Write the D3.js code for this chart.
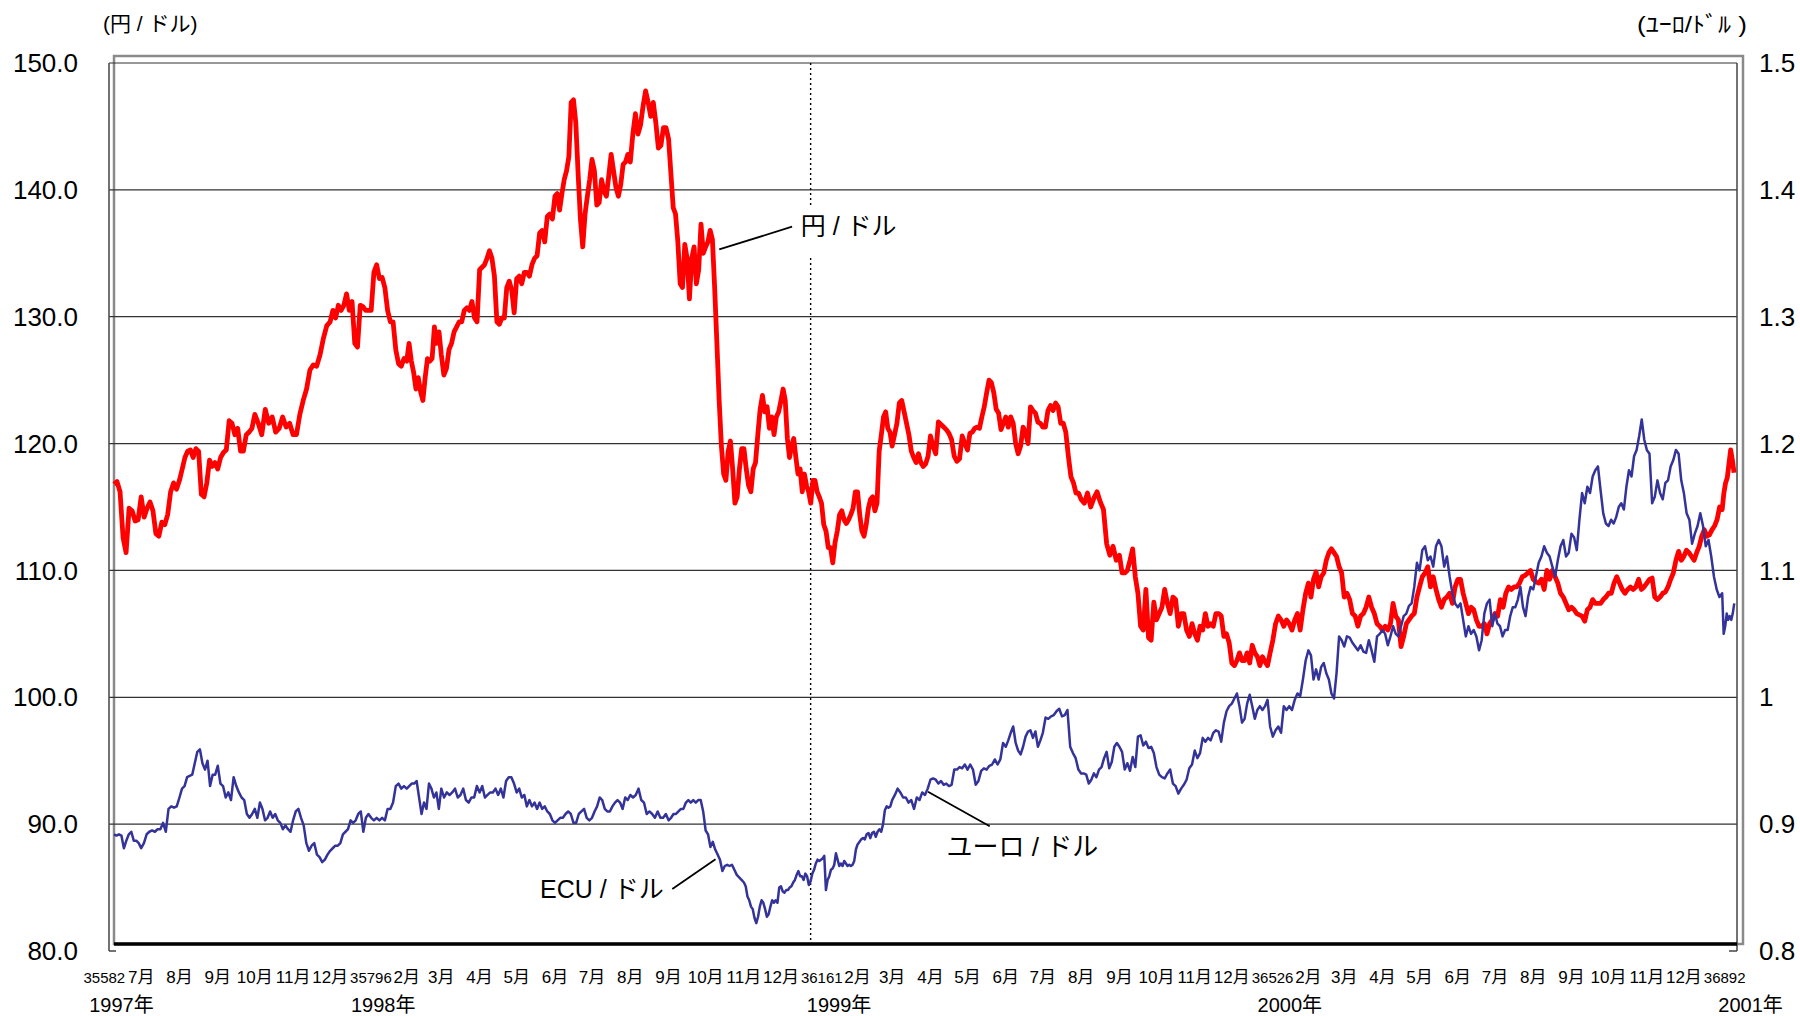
<!DOCTYPE html>
<html>
<head>
<meta charset="utf-8">
<script src="https://cdn.jsdelivr.net/npm/d3@7"></script>
<style>
  body { margin: 0; background: #fff; }
  svg { display: block; }
  text { font-family: "Liberation Sans", Arial, "Noto Sans CJK JP", sans-serif; fill: #000; }
</style>
</head>
<body>
<div id="chart"></div>
<script>
// month rows: values inside a row are spread evenly over that month
const monthStarts = [
    "1997-06-09", "1997-07-01", "1997-08-01", "1997-09-01", "1997-10-01", "1997-11-01", "1997-12-01",
    "1998-01-01", "1998-02-01", "1998-03-01", "1998-04-01", "1998-05-01", "1998-06-01",
    "1998-07-01", "1998-08-01", "1998-09-01", "1998-10-01", "1998-11-01", "1998-12-01",
    "1999-01-01", "1999-02-01", "1999-03-01", "1999-04-01", "1999-05-01", "1999-06-01",
    "1999-07-01", "1999-08-01", "1999-09-01", "1999-10-01", "1999-11-01", "1999-12-01",
    "2000-01-01", "2000-02-01", "2000-03-01", "2000-04-01", "2000-05-01", "2000-06-01",
    "2000-07-01", "2000-08-01", "2000-09-01", "2000-10-01", "2000-11-01", "2000-12-01",
    "2001-01-01"
];
const lastDate = "2001-01-12";

// 円/ドル (left axis)
const yenRows = [
    [116.8, 117.0, 116.2, 112.6, 111.4, 114.9, 114.7, 113.9, 114.0],
    [115.8, 114.2, 114.9, 115.4, 114.7, 112.9, 112.7, 113.8, 113.6, 114.4, 116.2, 116.9, 116.4],
    [117.1, 118.0, 118.9, 119.4, 119.5, 118.9, 119.6, 119.4, 116.0, 115.8, 116.9, 118.7, 118.2, 118.5],
    [118.0, 118.9, 119.3, 119.5, 121.8, 121.6, 120.7, 121.2, 119.4, 119.4, 120.7, 120.9, 121.2],
    [122.3, 121.6, 120.7, 122.7, 121.6, 122.1, 120.9, 121.2, 122.1, 121.3, 121.6],
    [120.7, 120.7, 122.3, 123.4, 124.3, 125.8, 126.2, 126.1, 127.0, 128.3, 129.3],
    [129.6, 130.5, 129.9, 130.9, 130.5, 130.9, 131.8, 130.5, 131.2, 127.9, 127.6, 130.9, 130.8, 130.5],
    [130.5, 130.5, 133.5, 134.1, 133.0, 133.1, 132.3, 130.5, 129.6, 129.6, 127.4, 126.3, 126.1, 126.7],
    [126.5, 127.9, 126.5, 125.6, 124.3, 125.2, 124.1, 123.4, 125.2, 126.7, 126.5, 126.7, 129.2, 127.9, 128.8],
    [127.0, 125.4, 125.9, 127.4, 127.9, 128.8, 129.2, 129.6, 129.6, 130.5, 130.7, 130.5, 131.2, 129.9, 129.6],
    [133.7, 133.9, 134.1, 134.6, 135.2, 134.6, 133.2, 129.6, 129.4, 129.9, 129.9, 132.3, 132.8, 132.1, 130.3],
    [133.0, 133.2, 132.6, 133.5, 133.5, 133.2, 134.1, 134.6, 134.8, 136.6, 136.8, 135.9, 137.9, 138.1, 137.7],
    [139.5, 139.7, 138.4, 139.7, 140.8, 141.5, 142.6, 146.9, 147.1, 145.3, 141.3, 137.7, 135.5, 138.1, 139.5, 140.8],
    [142.4, 141.5, 138.8, 139.0, 140.8, 139.9, 139.5, 141.1, 142.8, 141.5, 140.2, 139.5, 140.4, 142.0, 142.2, 142.8],
    [142.2, 144.4, 146.0, 144.4, 145.1, 146.6, 147.8, 146.9, 145.8, 146.9, 145.3, 143.3, 143.5, 144.9, 144.9],
    [144.0, 141.3, 138.6, 138.1, 135.9, 132.6, 132.3, 135.7, 134.6, 131.4, 134.6, 135.5, 132.6, 133.7, 137.3, 135.0],
    [135.5, 135.9, 136.8, 136.1, 132.3, 127.9, 123.4, 119.8, 117.6, 117.1, 119.4, 120.2, 118.0, 115.3, 115.8, 118.0, 119.6],
    [119.6, 118.0, 116.7, 116.2, 118.0, 118.5, 120.7, 122.7, 123.8, 122.5, 122.9, 121.2, 122.1, 120.7, 122.1, 122.5],
    [123.4, 124.3, 123.4, 120.4, 118.9, 119.8, 120.4, 118.9, 117.6, 118.0, 116.2, 117.6, 116.7, 116.2, 115.3, 117.1, 117.1, 116.2],
    [115.8, 115.3, 113.6, 113.1, 111.8, 111.8, 110.6, 112.2, 113.1, 114.4, 114.7, 114.0, 113.7, 114.0, 114.4, 114.9, 116.2],
    [116.2, 114.4, 113.1, 112.7, 113.6, 114.9, 115.6, 115.8, 114.7, 115.3, 119.4, 120.7, 122.1, 122.5, 121.2, 120.9],
    [119.8, 120.7, 121.6, 123.2, 123.4, 122.5, 121.6, 120.7, 119.4, 118.9, 118.5, 119.2, 118.5, 118.2, 118.4, 119.0],
    [120.6, 119.8, 119.2, 121.7, 121.5, 121.3, 121.1, 120.8, 120.3, 119.0, 118.6, 118.8, 120.6, 120.0],
    [119.5, 120.8, 120.9, 121.2, 121.3, 121.2, 122.1, 122.9, 124.0, 125.0, 124.8, 124.0, 122.7, 122.4, 121.1, 121.6],
    [122.1, 121.3, 122.1, 121.6, 120.0, 119.2, 119.8, 121.3, 120.9, 120.0, 122.9, 122.6, 122.4, 121.7, 121.6],
    [121.3, 121.3, 122.6, 123.0, 122.6, 123.2, 122.9, 121.6, 121.6, 120.9, 119.0, 117.4, 116.9, 116.1, 116.1],
    [115.6, 115.3, 116.1, 115.0, 115.7, 116.2, 115.4, 114.8, 112.1, 111.2, 111.9, 110.8],
    [111.2, 109.8, 109.8, 110.0, 110.8, 111.7, 109.5, 108.2, 105.6, 105.3, 108.5, 104.7, 104.5, 107.5],
    [106.1, 106.6, 107.1, 108.5, 107.4, 106.6, 107.9, 107.7, 105.6, 106.6, 106.6, 105.3, 104.8, 105.8],
    [105.0, 104.5, 105.6, 105.3, 106.6, 105.6, 105.8, 105.6, 106.6, 106.6, 106.4, 104.8, 105.0, 104.3],
    [102.7, 102.5, 102.9, 103.5, 102.9, 102.9, 103.5, 102.7, 104.1, 103.5, 103.2, 102.5, 103.2, 102.8, 102.5],
    [103.5, 104.5, 105.8, 106.4, 106.1, 105.6, 106.1, 105.8, 105.3, 106.1, 106.6, 105.3, 106.9, 108.2],
    [109.0, 107.9, 109.3, 109.9, 108.7, 109.5, 109.8, 110.8, 111.4, 111.7, 111.4, 111.1, 110.3, 109.8],
    [107.9, 108.2, 107.7, 106.6, 106.4, 105.6, 106.4, 106.6, 107.1, 107.9, 107.1, 106.6, 105.8, 105.6],
    [105.3, 105.6, 105.3, 105.8, 107.4, 106.4, 106.1, 104.0, 104.8, 105.8, 106.1, 106.4, 106.6, 107.9],
    [108.7, 109.5, 109.8, 110.3, 108.7, 109.5, 108.5, 107.7, 107.1, 107.7, 107.9, 108.2, 107.4, 108.7],
    [109.3, 109.3, 108.2, 107.4, 106.6, 107.1, 106.9, 106.1, 105.6, 105.6, 105.8, 105.0, 105.8, 106.1],
    [106.6, 106.4, 107.7, 107.1, 108.2, 108.7, 108.5, 108.7, 108.7, 109.0, 109.5, 109.6, 109.8, 110.0],
    [109.3, 109.1, 109.0, 109.3, 108.5, 110.0, 109.3, 110.0, 109.5, 109.0, 108.2, 107.9, 107.4, 106.9],
    [107.1, 106.9, 106.6, 106.5, 106.4, 106.0, 106.9, 107.1, 107.7, 107.4, 107.4, 107.4, 107.7, 107.9],
    [108.2, 108.2, 109.0, 109.5, 109.0, 108.5, 108.2, 108.5, 108.7, 108.5, 108.7, 109.3, 108.5, 108.7],
    [109.0, 109.3, 109.4, 107.9, 107.7, 107.9, 108.2, 108.3, 108.7, 109.3, 109.8, 110.8, 111.5, 110.8],
    [111.1, 111.6, 111.4, 111.1, 110.8, 111.4, 111.9, 112.7, 113.2, 112.7, 112.8, 113.2, 113.5, 114.0, 115.0],
    [114.8, 116.1, 116.9, 117.3, 118.4, 119.5, 118.7, 117.7]
];

// ECU/ドル then ユーロ/ドル (right axis)
const euroRows = [
    [0.892, 0.891, 0.892, 0.891, 0.881, 0.887, 0.892, 0.894, 0.887, 0.887, 0.885],
    [0.881, 0.885, 0.892, 0.894, 0.895, 0.894, 0.896, 0.896, 0.901, 0.894, 0.912, 0.914, 0.913, 0.914],
    [0.921, 0.928, 0.930, 0.937, 0.938, 0.939, 0.948, 0.957, 0.959, 0.948, 0.943, 0.950, 0.930, 0.939, 0.939],
    [0.946, 0.932, 0.930, 0.921, 0.925, 0.919, 0.937, 0.930, 0.925, 0.921, 0.919, 0.908, 0.905, 0.908],
    [0.912, 0.905, 0.917, 0.912, 0.903, 0.905, 0.910, 0.905, 0.908, 0.903, 0.901, 0.896, 0.899, 0.896, 0.894],
    [0.903, 0.910, 0.912, 0.905, 0.899, 0.885, 0.879, 0.883, 0.885, 0.876, 0.874, 0.870, 0.872, 0.876],
    [0.879, 0.881, 0.883, 0.883, 0.885, 0.892, 0.894, 0.896, 0.903, 0.901, 0.903, 0.908, 0.910, 0.894, 0.905],
    [0.908, 0.905, 0.903, 0.905, 0.903, 0.905, 0.903, 0.912, 0.912, 0.917, 0.930, 0.932, 0.928, 0.930],
    [0.928, 0.930, 0.932, 0.932, 0.934, 0.921, 0.908, 0.917, 0.912, 0.932, 0.928, 0.921, 0.925, 0.912],
    [0.928, 0.921, 0.925, 0.923, 0.925, 0.928, 0.921, 0.923, 0.928, 0.919, 0.917, 0.921, 0.921, 0.930],
    [0.925, 0.930, 0.921, 0.923, 0.925, 0.925, 0.928, 0.923, 0.928, 0.921, 0.934, 0.937, 0.937, 0.932],
    [0.925, 0.928, 0.921, 0.923, 0.914, 0.919, 0.914, 0.917, 0.912, 0.917, 0.912, 0.914, 0.910, 0.908, 0.903],
    [0.901, 0.903, 0.905, 0.905, 0.908, 0.910, 0.908, 0.901, 0.901, 0.908, 0.910, 0.912, 0.905, 0.903],
    [0.905, 0.910, 0.914, 0.921, 0.919, 0.912, 0.910, 0.910, 0.914, 0.917, 0.919, 0.917, 0.912, 0.921, 0.919],
    [0.923, 0.921, 0.923, 0.928, 0.919, 0.917, 0.908, 0.910, 0.908, 0.905, 0.910, 0.905, 0.905, 0.908],
    [0.903, 0.905, 0.908, 0.908, 0.910, 0.912, 0.912, 0.917, 0.919, 0.917, 0.919, 0.917, 0.919, 0.919, 0.910],
    [0.895, 0.892, 0.882, 0.886, 0.880, 0.876, 0.872, 0.863, 0.867, 0.868, 0.867, 0.868, 0.864, 0.860, 0.858, 0.856],
    [0.854, 0.851, 0.843, 0.840, 0.835, 0.833, 0.826, 0.822, 0.827, 0.835, 0.840, 0.838, 0.833, 0.827, 0.829, 0.835, 0.840, 0.838, 0.840, 0.838, 0.850],
    [0.851, 0.847, 0.846, 0.848, 0.848, 0.850, 0.851, 0.854, 0.856, 0.860, 0.863, 0.859, 0.859, 0.856, 0.861, 0.859, 0.852, 0.855, 0.861, 0.864, 0.869, 0.872],
    [0.871, 0.872, 0.873, 0.875, 0.848, 0.856, 0.859, 0.864, 0.865, 0.868, 0.877, 0.872, 0.867, 0.869, 0.867, 0.871, 0.869, 0.867, 0.868, 0.867, 0.868, 0.871, 0.880],
    [0.884, 0.886, 0.888, 0.889, 0.888, 0.892, 0.893, 0.889, 0.893, 0.894, 0.890, 0.894, 0.896, 0.894, 0.900, 0.911, 0.914, 0.913, 0.914],
    [0.919, 0.923, 0.928, 0.925, 0.921, 0.921, 0.917, 0.919, 0.912, 0.921, 0.919, 0.925, 0.923, 0.928],
    [0.935, 0.936, 0.935, 0.932, 0.934, 0.931, 0.932, 0.930, 0.931, 0.943, 0.943, 0.945, 0.944, 0.947],
    [0.943, 0.947, 0.943, 0.931, 0.934, 0.942, 0.944, 0.943, 0.946, 0.947, 0.951, 0.947, 0.951, 0.964],
    [0.961, 0.966, 0.972, 0.977, 0.964, 0.958, 0.955, 0.961, 0.969, 0.973, 0.974, 0.968, 0.973, 0.961, 0.966],
    [0.972, 0.984, 0.983, 0.985, 0.986, 0.989, 0.991, 0.985, 0.986, 0.990, 0.961, 0.956, 0.952, 0.943],
    [0.940, 0.940, 0.939, 0.932, 0.935, 0.940, 0.937, 0.943, 0.945, 0.952, 0.957, 0.944, 0.949, 0.961, 0.964],
    [0.961, 0.957, 0.943, 0.948, 0.942, 0.953, 0.945, 0.969, 0.970, 0.962, 0.965, 0.960, 0.961, 0.956],
    [0.945, 0.939, 0.937, 0.936, 0.940, 0.943, 0.932, 0.930, 0.924, 0.928, 0.931, 0.935, 0.944, 0.947],
    [0.958, 0.952, 0.956, 0.968, 0.965, 0.968, 0.966, 0.972, 0.974, 0.973, 0.965, 0.980, 0.989, 0.993],
    [0.995, 0.999, 1.003, 0.993, 0.980, 0.983, 0.995, 1.002, 0.993, 0.983, 0.990, 0.993, 0.990, 0.993, 0.998],
    [0.977, 0.969, 0.974, 0.977, 0.972, 0.993, 0.990, 0.993, 0.990, 0.998, 1.003, 1.001, 1.014, 1.029],
    [1.037, 1.033, 1.014, 1.022, 1.014, 1.024, 1.027, 1.019, 1.014, 1.003, 0.999, 1.019, 1.048, 1.045],
    [1.040, 1.048, 1.047, 1.043, 1.040, 1.037, 1.041, 1.036, 1.035, 1.045, 1.037, 1.028, 1.048, 1.050],
    [1.053, 1.050, 1.041, 1.048, 1.056, 1.050, 1.048, 1.056, 1.064, 1.066, 1.072, 1.074, 1.087, 1.106],
    [1.100, 1.116, 1.119, 1.108, 1.111, 1.103, 1.119, 1.124, 1.119, 1.103, 1.111, 1.095, 1.082, 1.074],
    [1.071, 1.074, 1.061, 1.048, 1.056, 1.050, 1.053, 1.048, 1.037, 1.045, 1.066, 1.074, 1.077, 1.056],
    [1.066, 1.058, 1.056, 1.048, 1.053, 1.053, 1.064, 1.071, 1.071, 1.077, 1.087, 1.071, 1.064, 1.079, 1.087],
    [1.085, 1.095, 1.106, 1.111, 1.119, 1.114, 1.111, 1.103, 1.095, 1.108, 1.119, 1.124, 1.111, 1.114],
    [1.129, 1.126, 1.116, 1.140, 1.161, 1.153, 1.166, 1.161, 1.174, 1.179, 1.182, 1.163, 1.145, 1.137],
    [1.135, 1.140, 1.137, 1.142, 1.150, 1.153, 1.148, 1.166, 1.179, 1.174, 1.190, 1.195, 1.206, 1.219, 1.203],
    [1.195, 1.192, 1.153, 1.158, 1.171, 1.161, 1.156, 1.169, 1.171, 1.182, 1.187, 1.195, 1.192, 1.171],
    [1.161, 1.145, 1.140, 1.121, 1.129, 1.135, 1.145, 1.135, 1.119, 1.124, 1.111, 1.095, 1.085, 1.079],
    [1.082, 1.050, 1.056, 1.066, 1.061, 1.064, 1.061, 1.066, 1.074]
];

// axis labels (excel printed the january ones as date serials)
const tickLabels = [
    "35582", "7月", "8月", "9月", "10月", "11月", "12月",
    "35796", "2月", "3月", "4月", "5月", "6月", "7月", "8月", "9月", "10月", "11月", "12月",
    "36161", "2月", "3月", "4月", "5月", "6月", "7月", "8月", "9月", "10月", "11月", "12月",
    "36526", "2月", "3月", "4月", "5月", "6月", "7月", "8月", "9月", "10月", "11月", "12月",
    "36892"
];
const yearLabels = ["1997年", "1998年", "1999年", "2000年", "2001年"];
const yearLabelDates = ["1997-06-15", "1998-01-13", "1999-01-17", "2000-01-17", "2001-01-24"];

const yenTicks = [80, 90, 100, 110, 120, 130, 140, 150];
const euroTicks = [0.8, 0.9, 1.0, 1.1, 1.2, 1.3, 1.4, 1.5];
const euroTickLabels = ["0.8", "0.9", "1", "1.1", "1.2", "1.3", "1.4", "1.5"];

const euroStartDate = "1998-12-25"; // dotted line

const parse = d3.timeParse("%Y-%m-%d");

const W = 1800, H = 1016;
const plotL = 114, plotR = 1737, plotT = 63, plotB = 951;

const svg = d3.select("#chart").append("svg")
    .attr("width", W)
    .attr("height", H);

svg.append("rect").attr("width", W).attr("height", H).attr("fill", "#fff");

const x = d3.scaleTime()
    .domain([parse("1997-06-09"), parse("2001-01-13")])
    .range([plotL, plotR]);
const yL = d3.scaleLinear().domain([80, 150]).range([plotB, plotT]);
const yR = d3.scaleLinear().domain([0.8, 1.5]).range([plotB, plotT]);

function toPoints(rows) {
    const pts = [];
    rows.forEach((row, i) => {
        const s = parse(monthStarts[i]);
        const e = parse(monthStarts[i + 1] || lastDate);
        row.forEach((v, k) => {
            pts.push({ date: new Date(+s + (e - s) * k / row.length), v: v });
        });
    });
    return pts;
}
const yenData = toPoints(yenRows);
const euroData = toPoints(euroRows);

// frame
svg.append("rect")
    .attr("x", plotL).attr("y", 56)
    .attr("width", 1743 - plotL).attr("height", 944 - 56)
    .attr("fill", "none")
    .attr("stroke", "#8a8a8a")
    .attr("stroke-width", 2.5);

// gridlines
svg.append("g").selectAll("line")
    .data(yenTicks.filter(d => d > 80))
    .join("line")
    .attr("x1", 109).attr("x2", plotR)
    .attr("y1", d => yL(d)).attr("y2", d => yL(d))
    .attr("stroke", "#333")
    .attr("stroke-width", 1.2);

// axis lines + bottom ticks
svg.append("line").attr("x1", 109).attr("x2", 109).attr("y1", plotT).attr("y2", plotB)
    .attr("stroke", "#444").attr("stroke-width", 1.5);
svg.append("line").attr("x1", 109).attr("x2", 116).attr("y1", yL(80)).attr("y2", yL(80))
    .attr("stroke", "#444").attr("stroke-width", 1.5);
svg.append("line").attr("x1", plotR).attr("x2", plotR).attr("y1", plotT).attr("y2", plotB)
    .attr("stroke", "#444").attr("stroke-width", 1.5);
svg.append("line").attr("x1", plotR - 8).attr("x2", plotR).attr("y1", yR(0.8)).attr("y2", yR(0.8))
    .attr("stroke", "#444").attr("stroke-width", 1.5);

// thick bottom border
svg.append("line").attr("x1", plotL).attr("x2", plotR).attr("y1", 944).attr("y2", 944)
    .attr("stroke", "#000").attr("stroke-width", 3.5);

// tick labels
svg.append("g").selectAll("text")
    .data(yenTicks)
    .join("text")
    .attr("x", 78)
    .attr("y", d => yL(d))
    .attr("dy", "0.35em")
    .attr("text-anchor", "end")
    .style("font-size", "26px")
    .text(d => d.toFixed(1));

svg.append("g").selectAll("text")
    .data(euroTicks)
    .join("text")
    .attr("x", 1759)
    .attr("y", d => yR(d))
    .attr("dy", "0.35em")
    .style("font-size", "26px")
    .text((d, i) => euroTickLabels[i]);

// month labels; the serial numbers get a smaller size so they fit between months
const isSerial = s => /^\d+$/.test(s);
svg.append("g").selectAll("text")
    .data(monthStarts)
    .join("text")
    .attr("x", (d, i) => i === 0 ? x(parse(monthStarts[1])) - 16 : x(parse(d)) + (isSerial(tickLabels[i]) ? 2.5 : 0))
    .attr("y", 983)
    .attr("text-anchor", (d, i) => i === 0 ? "end" : "middle")
    .style("font-size", (d, i) => isSerial(tickLabels[i]) ? "15px" : "17px")
    .text((d, i) => tickLabels[i]);

svg.append("g").selectAll("text")
    .data(yearLabelDates)
    .join("text")
    .attr("x", d => x(parse(d)))
    .attr("y", 1012)
    .attr("text-anchor", "middle")
    .style("font-size", "20px")
    .text((d, i) => yearLabels[i]);

// unit titles
svg.append("text").attr("x", 103).attr("y", 24).attr("dy", "0.35em")
    .style("font-size", "21px").text("(円 / ドル)");
svg.append("text").attr("x", 1637).attr("y", 24).attr("dy", "0.35em")
    .attr("textLength", 110)
    .attr("lengthAdjust", "spacingAndGlyphs")
    .style("font-size", "22px").text("(ﾕｰﾛ/ﾄﾞﾙ )");

// euro start marker
svg.append("line")
    .attr("x1", x(parse(euroStartDate))).attr("x2", x(parse(euroStartDate)))
    .attr("y1", plotT).attr("y2", 944)
    .attr("stroke", "#000")
    .attr("stroke-width", 1.4)
    .attr("stroke-dasharray", "2,3");

// series
const yenLine = d3.line().x(d => x(d.date)).y(d => yL(d.v));
const euroLine = d3.line().x(d => x(d.date)).y(d => yR(d.v));

svg.append("path")
    .datum(yenData)
    .attr("d", yenLine)
    .attr("fill", "none")
    .attr("stroke", "#ff0000")
    .attr("stroke-width", 4.8)
    .attr("stroke-linejoin", "round");

svg.append("path")
    .datum(euroData)
    .attr("d", euroLine)
    .attr("fill", "none")
    .attr("stroke", "#333399")
    .attr("stroke-width", 2.5)
    .attr("stroke-linejoin", "round");

// callouts
const yenNote = { from: ["1998-10-12", 135.3], to: ["1998-12-10", 137.1], at: ["1998-12-17", 137.1], text: "円 / ドル" };
const ecuNote = { from: ["1998-10-09", 0.8723], to: ["1998-09-04", 0.8489], at: ["1998-08-28", 0.8487], text: "ECU / ドル" };
const euroNote = { from: ["1999-03-30", 0.9255], to: ["1999-05-19", 0.8983], at: ["1999-04-14", 0.8822], text: "ユーロ / ドル" };

// white patch behind the yen label (it hides the dotted line)
const yx = x(parse(yenNote.at[0])), yy = yL(yenNote.at[1]);
svg.append("rect")
    .attr("x", yx - 4).attr("y", yy - 21)
    .attr("width", 100).attr("height", 51)
    .attr("fill", "#fff");

svg.append("line")
    .attr("x1", x(parse(yenNote.from[0]))).attr("y1", yL(yenNote.from[1]))
    .attr("x2", x(parse(yenNote.to[0]))).attr("y2", yL(yenNote.to[1]))
    .attr("stroke", "#000").attr("stroke-width", 1.8);
svg.append("text")
    .attr("x", yx).attr("y", yy).attr("dy", "0.35em")
    .style("font-size", "25px")
    .text(yenNote.text);

[ecuNote, euroNote].forEach((n, i) => {
    svg.append("line")
        .attr("x1", x(parse(n.from[0]))).attr("y1", yR(n.from[1]))
        .attr("x2", x(parse(n.to[0]))).attr("y2", yR(n.to[1]))
        .attr("stroke", "#000").attr("stroke-width", 1.8);
    svg.append("text")
        .attr("x", x(parse(n.at[0]))).attr("y", yR(n.at[1]))
        .attr("dy", "0.35em")
        .attr("text-anchor", i === 0 ? "end" : "start")
        .style("font-size", i === 0 ? "25px" : "26px")
        .text(n.text);
});
</script>
</body>
</html>
